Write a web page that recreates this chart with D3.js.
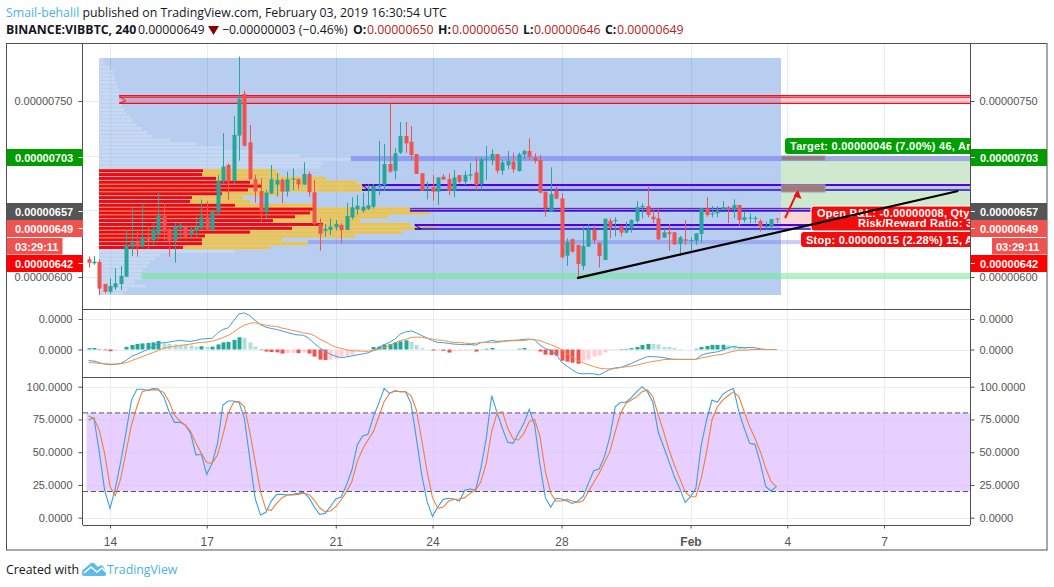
<!DOCTYPE html>
<html><head><meta charset="utf-8">
<script src="https://cdnjs.cloudflare.com/ajax/libs/d3/7.8.5/d3.min.js"></script>
<style>html,body{margin:0;padding:0;background:#fff}svg{display:block}text{font-family:"Liberation Sans",Arial,sans-serif}</style>
</head><body><div id="c"></div>
<script>
// ---- data (prices in 1e-8 BTC, first bar is index -4, Jan 14 00:00 is index 0) ----
const firstBar = -4;
const opens = [615.1,611.7,612.8,594.1,587.5,591.2,594.1,600.3,625.9,630.1,625.9,633.6,631.6,637.2,652.3,640.7,631,641.5,642.9,636.4,639.2,641.5,651.4,640.1,654.9,681.3,695.5,682.1,720.5,756,714.8,683.3,673.3,655.7,671.3,678.7,682.7,672.8,683.3,683.3,678.7,687.8,672.2,645.2,639.5,640.1,642.4,644.3,640,650.8,657.7,656.5,658.2,659.9,677,678.4,696.3,690.6,706,720.2,715.3,704.8,688.4,676.4,676.4,672.7,685.5,683.5,673.6,686.9,681.2,686.4,689.2,679,700.3,699.7,704.8,690.6,695.2,698.3,690.3,704.3,707.4,702,699.7,672.7,655.7,673.6,667,618.2,632.1,627.3,609.4,625.9,640.1,629.3,614.5,648,648,643.5,637.8,641.5,647.7,659.4,660.5,651.4,650,633.5,638.1,638.1,628.1,632.1,631,631,636.7,658.5,653.4,654.3,657.1,659.4,657.1,661.4,648.6,650.4,649.7,647.7,642.9,642.9,650];
const highs = [617.4,617.9,615.1,594.1,598.9,607.4,609.4,640.1,658.6,638.7,662.8,642.9,646.3,671.9,662.8,642.9,645.8,646.3,644.3,644.3,651.4,666.2,664.8,657.1,687,722.5,696.9,737.2,787.8,758.8,729.6,687,684.1,674.2,695.5,688.4,684.1,689.8,692.6,684.1,697.8,689.8,682.7,650,645.2,650,648.6,645.7,663.4,667.9,669.9,671.9,679,679.3,715.9,713.4,748,709.7,732.1,732.1,728.7,704.8,688.4,681.2,686.9,684.9,687.8,688.4,691.2,686.9,690.3,697.4,702,702,711.6,708.8,704.8,699.7,707.4,706,706,708.8,718.2,705.4,704,672.7,693.5,677,671.3,632.9,632.9,627.3,642.9,644.9,644.3,629.3,649.7,650,650.9,644.3,647.2,649.2,664.8,662.8,677,658.5,658.5,640.9,645.2,638.1,635,648.6,633.8,637.2,658.5,667.9,660.5,660.5,664.8,660.5,666.2,661.4,655.7,654.3,652,649.2,647.2,649.4,650];
const lows = [608,610.3,584.7,586.1,585.5,589,589,599.7,617.9,617.4,625.3,623.6,625.9,631.6,631.6,617.4,612.2,633.8,632.1,632.4,634.4,640.1,640.1,639.2,652.9,679.9,665.7,679.3,699.2,711.1,682.7,663.4,645.8,648.6,670.5,668.5,662.8,668.5,674.2,674.7,678.4,668.5,644.3,622.5,634.4,635.8,639.5,628.7,640,649.1,652.8,654.8,657.1,658.5,669.9,673.3,688.9,683.2,704.8,706,699.7,687.8,673.6,666.2,665.1,661.4,682.7,669.9,667.9,679.8,678.4,682.7,674.1,674.1,682.7,695.5,688.4,686.9,691.8,688.9,689.8,700.3,699.7,696.9,671.3,651.4,655.7,666.2,615.9,609.4,620.7,598.9,606,625.9,628.1,608,614.5,633,634.4,634.4,637.2,637.8,645.8,650,650.9,645.8,631.5,633.5,622.5,627.3,617.9,627.3,622.5,627.3,628.7,651.4,650.9,650.9,656.5,645.8,650,643.5,646.3,645.8,646.3,638.6,640.6,640.6,646];
const closes = [612.2,613.1,590.1,587.5,592.4,594.6,600.9,627.3,629.3,625.9,633.6,631,640.1,652.3,638.7,631,642.9,644.1,634.4,639.2,642.4,651.4,640.7,655.4,681.6,694.1,681.3,721.1,751.7,712,683.3,672.8,655.7,671.9,683.3,682.7,672.8,683.3,683.8,679,687.8,672.2,645.2,636.7,640.9,642.9,645.2,640,652,659.4,660.8,659.9,661.1,677.6,678.4,696.3,689.8,705.4,720.2,713.9,704,687.8,673.6,677,672.7,684.9,683.2,673.3,684.9,681.2,686.9,687.5,678.4,700.3,700.9,704.8,690.6,697.7,698.9,691.8,704.5,707.4,702.6,698.9,671.9,658.5,670.7,666.8,616.8,629.8,621.6,611.1,626.4,640.1,631.5,617.9,649.7,642.3,648.6,637.8,640.1,648.6,659.4,660.5,652.9,649.2,632.1,638.1,636.7,627.9,633.8,631,631.5,637.2,658.5,652.9,654.3,656.5,659.4,657.7,661.4,648.6,650.9,650.6,650.3,642.9,643.5,649.4,649];

const macdHist = [1.3,1.5,-.5,-.7,-1.7,-1,-.2,2.5,4.5,5.5,6,6.5,7,8.3,6,5.5,5,4.5,4.5,4,2.8,3.2,2.4,2.8,5,7,7.5,9.5,12,11.5,7,3,-.5,-2,-2.5,-2.8,-4,-3.5,-3.3,-3.6,-3,-4,-7,-10,-10.3,-10,-9.5,-7,-6.5,-5,-2,-.7,-.5,2.5,3,5,5.5,7,8,9,7.5,4.5,1.5,.3,-1,-.8,-1.2,-3,-1.5,-1.4,-1,-.8,-2,.2,.7,1.5,.3,.3,.3,.2,.7,1.5,.3,.3,-2,-5,-5.5,-6,-11,-12,-13,-14,-11,-10,-7,-6,-3,-.7,.2,.5,.6,1.3,2.5,4.5,5.5,5.4,5,2.5,2.4,1.5,.5,.1,.05,.7,2.5,3.5,4.5,4.6,4.7,4,3.5,2,1.5,.7,.3,.2,.1,.1,.1];
const macdLine = [-11,-11.3,-13,-14.3,-15,-14.7,-13.7,-10.7,-6.7,-4.7,-2.3,0,3,6,6.7,7.3,8.3,9,8.3,8,9,10.3,10.7,11,16,19.7,21.3,28.3,35,36,33.3,28.7,24.3,22,20.7,19.7,18.3,16.7,15.3,14.3,14,11,6,1.7,-1.7,-4.7,-6.7,-8,-7.3,-6.3,-5.3,-4.3,-3.3,-1,1.7,4.7,7,10.3,15,17.3,18.3,16.3,13.7,11.3,8.7,7,6.7,6,5.3,5,4.7,5,4.3,6.7,7.3,9,8,8.3,8.7,9,9.3,10,10.3,9.3,4.3,1,-.7,-4.7,-12.3,-16.3,-20,-23.3,-24,-23.7,-24,-25,-22.3,-19.7,-18,-17.7,-15.7,-13.7,-11.3,-9,-7,-7,-7.3,-8,-9,-9.7,-9.7,-9.7,-9.7,-9.7,-5.7,-4,-3,-2.3,-.7,1.7,3,2,1.7,2,1.7,.7,0,0,0];
const macdSignal = [-13,-13,-13.7,-14,-14.3,-14.3,-14,-13,-11,-9,-7,-5,-3,-1,1.3,2.3,3,4,4.7,5.3,6.3,7,7.3,8.3,9.7,11.7,14,17,21,24,25.7,26.3,25,24,23,22.7,21,20,18.7,17.7,16.3,15.7,13.7,10.3,7.7,4.7,2.3,1,-.3,-1.3,-1.3,-1.7,-1.7,-1,.3,2,4,6.7,8.7,10,11.7,12.3,12,11,10.3,9.3,9,7.7,7,7,6.3,5.7,6,7,7,7,7,7.7,8.3,8.7,8.7,8.7,9.7,9.7,8.7,6.7,4.7,2.7,0,-4,-7.3,-10.7,-13,-15,-16.7,-18.3,-19,-19,-18.7,-17.7,-17,-16.3,-15.3,-14,-12.7,-11.7,-11,-10,-9.7,-9.7,-9.7,-9.7,-9.7,-9.7,-8.3,-7.3,-6.3,-5.3,-4.7,-3,-1.7,-.7,-.7,-.3,0,0,0,0,0];

const stochK = [74.6,76.3,50.4,21.1,7.1,22.4,42.8,65.7,89.8,98,98,97,98.5,98.2,92.4,80.9,72.8,72.8,70.8,64.4,47.8,48.4,33.1,41.5,56.8,86,89.1,89.1,88.1,75.8,45.3,14.8,2,4.1,12.7,17.8,17.8,17.3,17.8,18.6,19.3,15.3,8.4,2.5,3.3,8.4,14.3,15.8,24.9,36.4,55.5,62.4,63.6,77.1,87.3,98.7,94.9,96.7,96.2,96.2,87.3,60.6,32.6,12.2,1,8.4,14,14.8,14.3,12.7,20.9,21.9,21.1,37.7,60.6,93.1,80.4,68.2,57.5,56.8,64.4,72,82.7,70.8,40.2,15.3,8.1,14.8,14.3,12.7,10.9,12.7,16,26.2,35.9,37.2,46.6,61.8,84.7,88.1,88.1,91.6,96.2,100,96.2,88.1,65.2,54.2,42.8,31.3,22.4,11.7,16,22.4,55.5,74.6,89.8,88.1,94.2,97,98.7,80.9,68.2,56.8,56,41.5,23.7,20.4,23.7];
const stochD = [77.6,75.8,66.9,49.1,23.7,16.8,30,50.4,70.8,84.7,96.2,97.5,97.5,97.5,95.7,88.6,78.4,73.8,70.8,65.7,56.8,49.1,42.2,41.5,47.8,63.1,79.7,88.1,88.6,84.7,65.7,42.8,19.9,6.4,5.6,10.9,15.3,17.3,17.3,17.8,18.6,17.8,13.5,7.6,4.6,5.1,8.4,13.5,19.9,27.5,42.8,52.4,59.3,65.7,77.1,88.6,94.9,97,96.2,96.2,93.1,82.2,59.3,35.1,15.3,7.1,8.1,12.7,14,14.3,15.3,18.6,21.1,27.5,41.5,65.7,79.7,80.9,68.2,60.1,59.3,64.4,73.3,75.1,61.8,35.1,18.6,12.7,12.7,14,12.7,11.7,12.7,19.9,27,33.8,42.2,50.4,65.7,79.7,87.3,89.8,92.4,96.2,97.5,92.4,78.4,65.7,51.7,40.2,30,19.9,16,16,30,50.4,74.6,84.7,89.8,93.1,96.2,92.4,80.9,69.5,60.6,50.4,37.7,27.5,23.7];

// fixed-range volume profile, rows top to bottom
const vpTotal = [4,6,11,14,15,16,17,19,20,20,21,22,23,25,28,31,34,38,43,48,53,71,98,124,156,201,252,223,221,
  177,181,227,258,273,263,181,144,151,214,311,331,289,261,311,338,303,256,183,209,171,
  136,61,56,51,48,44,44,43,36,47,28,24];
const vpValue = [0,0,0,0,0,0,0,0,0,0,0,0,0,0,0,0,0,0,0,0,0,0,0,0,0,0,0,0,0,
  104,103,117,151,163,149,123,93,91,136,214,211,196,174,224,193,151,106,103,103,84,
  0,0,0,0,0,0,0,0,0,0,0,0];
const priceTicks = [750,600];
const macdTicks = [30,0];
const stochTicks = [100,75,50,25,0];
const dayTicks = [0,18,42,60,84,108,126,144];
const dayLabels = ["14","17","21","24","28","Feb","4","7"];
const lineZones = [[754.5,753.2,748,1.7],[678.4,674.1,674.1,46.9],[644.3,640.9,640.9,56.7]];
const target = 703, entry = 657, stop = 642, last = 649;

// ---- scales ----
const W=1054,H=587;
const L=83,R=970;
const x = d3.scaleLinear().domain([0,1]).range([110,115.375]);
const y = d3.scaleLinear().domain([750,600]).range([101,277]);
const yM = d3.scaleLinear().domain([0,30]).range([349.5,319]);
const yS = d3.scaleLinear().domain([0,100]).range([517.7,386.7]);
const vol = d3.scaleLinear().domain([0,338]).range([99,437]);
const rowY = d3.scaleBand().domain(d3.range(vpTotal.length)).range([58,295]).paddingInner(.22);
const priceFmt = v=>"0.00000"+v;
const UP="#26a69a",DN="#ef5350";

const svg=d3.select("#c").append("svg").attr("width",W).attr("height",H);
const defs=svg.append("defs");
defs.append("clipPath").attr("id","mc").append("rect").attr("x",L).attr("y",44).attr("width",R-L).attr("height",265);

// grid
const grid=svg.append("g").attr("stroke","#e9edf2").attr("stroke-width",1);
const xs=dayTicks.map(d=>Math.round(x(d))+.5);
xs.forEach(v=>grid.append("line").attr("x1",v).attr("x2",v).attr("y1",44).attr("y2",525));
priceTicks.forEach(v=>grid.append("line").attr("x1",L).attr("x2",R).attr("y1",Math.round(y(v))+.5).attr("y2",Math.round(y(v))+.5));
[target,entry].forEach(v=>grid.append("line").attr("x1",L).attr("x2",R).attr("y1",Math.round(y(v))+.5).attr("y2",Math.round(y(v))+.5));
macdTicks.forEach(v=>grid.append("line").attr("x1",L).attr("x2",R).attr("y1",Math.round(yM(v))+.5).attr("y2",Math.round(yM(v))+.5));
stochTicks.forEach(v=>grid.append("line").attr("x1",L).attr("x2",R).attr("y1",Math.round(yS(v))+.5).attr("y2",Math.round(yS(v))+.5));

// main pane
const m=svg.append("g").attr("clip-path","url(#mc)");
const xEnd=x(200);
m.append("rect").attr("x",vol(0)).attr("y",58).attr("width",781-vol(0)).attr("height",237).attr("fill","#b4cbef").attr("fill-opacity",.95);
// faint grid through the blue box
xs.forEach(v=>{ if(v>99&&v<781) m.append("line").attr("x1",v).attr("x2",v).attr("y1",58).attr("y2",295).attr("stroke","#9fb6dc").attr("stroke-opacity",.6); });

// vp rows
vpTotal.forEach((t,k)=>{
  const ry=rowY(k),rh=rowY.bandwidth(),r=vpValue[k];
  if(r>0){
    m.append("rect").attr("x",vol(0)).attr("y",ry).attr("width",vol(t)-vol(0)).attr("height",rh).attr("fill","#f2c33f");
    m.append("rect").attr("x",vol(0)).attr("y",ry).attr("width",vol(r)-vol(0)).attr("height",rh).attr("fill","#ee0a14");
  } else {
    m.append("rect").attr("x",vol(0)).attr("y",ry).attr("width",vol(t)-vol(0)).attr("height",rh).attr("fill","#dbe6f8").attr("fill-opacity",.42);
  }
});

// position box
m.append("rect").attr("x",781).attr("y",y(target)).attr("width",R-781).attr("height",y(entry)-y(target)).attr("fill","#cfe9cf");
m.append("rect").attr("x",781).attr("y",y(entry)).attr("width",R-781).attr("height",y(stop)-y(entry)).attr("fill","#fdd5d5");

// zones
function band(p1,p2,i0,c,o){m.append("rect").attr("x",x(i0)).attr("y",y(p1)).attr("width",xEnd-x(i0)).attr("height",y(p2)-y(p1)).attr("fill",c).attr("fill-opacity",o);}
function hl(p,i0,c,w){m.append("line").attr("x1",x(i0)).attr("x2",xEnd).attr("y1",y(p)).attr("y2",y(p)).attr("stroke",c).attr("stroke-width",w);}
band(754.5,748,1.7,"#ff3040",.25);
hl(754.5,1.7,"#f01020",1.3);hl(753.2,1.7,"#f01020",1);hl(748,1.7,"#f01020",1.3);
band(603.4,598.3,5.8,"#66ee88",.5);
band(703.1,698.8,44.8,"#5a5af0",.42);
band(631.5,628,36.8,"#5a5af0",.3);
band(678.4,674.1,46.9,"#7050f0",.2);hl(678.4,46.9,"#5500dd",2);hl(674.1,46.9,"#2a10c8",1.5);
band(658.5,656.5,55.8,"#7050f0",.2);hl(658.5,55.8,"#701080",1);hl(656.5,55.8,"#3c10e0",2);
band(644.3,640.9,56.7,"#7050f0",.2);hl(644.3,56.7,"#5500dd",2);hl(640.9,56.7,"#2a10c8",1.5);
lineZones.forEach(z=>{
  const c=z[0]>700?"#f01020":"#1a1090";
  m.append("path").attr("fill","none").attr("stroke",c).attr("stroke-width",1)
   .attr("d",d3.line()([[x(z[3]),y(z[0])],[x(z[3]+1.2),y(z[1])+(y(z[2])-y(z[1]))*.6],[x(z[3]),y(z[2])]]));
});
[[703.1,699.5,"#9a7a80","#8a9fc0"],[678.6,672.5,"#a87878","#7f9bb0"]].forEach(b=>{
  m.append("rect").attr("x",781.5).attr("y",y(b[0])).attr("width",43.5).attr("height",y(b[1])-y(b[0])).attr("fill",b[2]).attr("stroke",b[3]).attr("stroke-width",1);
});

// candles
const idx=d3.range(opens.length).map(i=>i+firstBar);
const cg=m.append("g");
idx.forEach((b,i)=>{
  const up=closes[i]>=opens[i],c=up?UP:DN,px=Math.round(x(b));
  cg.append("line").attr("x1",px+.5).attr("x2",px+.5).attr("y1",y(highs[i])).attr("y2",y(lows[i])).attr("stroke",c).attr("stroke-width",1);
  const t=Math.min(y(opens[i]),y(closes[i])),h=Math.max(1,Math.abs(y(opens[i])-y(closes[i])));
  cg.append("rect").attr("x",px-1.5).attr("y",t).attr("width",4).attr("height",h).attr("fill",c);
});

// arrow
const ax0=[x(125.6),y(650.3)],ax1=[x(128),y(674.1)];
m.append("line").attr("x1",ax0[0]).attr("y1",ax0[1]).attr("x2",ax1[0]-1.2).attr("y2",ax1[1]+3).attr("stroke","#f01010").attr("stroke-width",2);
m.append("path").attr("fill","#f01010").attr("d",d3.line()([[ax1[0],ax1[1]],[ax1[0]+3.5,ax1[1]+9],[ax1[0]-4.5,ax1[1]+6]])+"Z");

// trade labels
function tag(x0,y0,h,fill,border){
  const r=m.append("rect").attr("x",x0).attr("y",y0).attr("width",R+10-x0).attr("height",h).attr("rx",3).attr("fill",fill);
  if(border) r.attr("stroke","#fff").attr("stroke-width",1);
}
function tagText(t,tx,ty){m.append("text").attr("x",tx).attr("y",ty).attr("fill","#fff").attr("font-size",11).attr("font-weight","bold").attr("letter-spacing",".25").text(t);}
tag(785,138,16,"#009f00");
tagText("Target: 0.00000046 (7.00%) 46, Am",790,150);
tag(811,206,25,"#f20d0d",true);
tagText("Open P&L: -0.00000008, Qty: 1",817,217);
tagText("Risk/Reward Ratio: 3.",858,227);
tag(801,232,15,"#f20d0d");
tagText("Stop: 0.00000015 (2.28%) 15, A",806,244);
m.append("line").attr("x1",x(86.9)).attr("y1",y(599.1)).attr("x2",x(157.8)).attr("y2",y(673.3)).attr("stroke","#000").attr("stroke-width",2.2);

// MACD
const mac=svg.append("g");
macdHist.forEach((v,i)=>{
  const p=i?macdHist[i-1]:0;
  const c=v>=0?(v>p?"#26a69a":"#b2dfdb"):(v<p?"#ef5350":"#ffcdd2");
  const px=Math.round(x(i+firstBar));
  const a=yM(v),b=yM(0);
  mac.append("rect").attr("x",px-1.5).attr("y",Math.min(a,b)).attr("width",4).attr("height",Math.abs(a-b)).attr("fill",c);
});
const lineM=d3.line().x((d,i)=>x(i+firstBar)).y(d=>yM(d));
mac.append("path").attr("d",lineM(macdLine)).attr("fill","none").attr("stroke","#3d9ee0").attr("stroke-width",1);
mac.append("path").attr("d",lineM(macdSignal)).attr("fill","none").attr("stroke","#f0914a").attr("stroke-width",1);

// Stoch
const st=svg.append("g");
st.append("rect").attr("x",x(firstBar)-2).attr("y",yS(80)).attr("width",R-x(firstBar)+2).attr("height",yS(20)-yS(80)).attr("fill","#d9b3ff").attr("fill-opacity",.62);
[80,20].forEach(v=>st.append("line").attr("x1",L).attr("x2",R).attr("y1",yS(v)).attr("y2",yS(v)).attr("stroke","#555").attr("stroke-dasharray","5 3"));
const lineS=d3.line().x((d,i)=>x(i+firstBar)).y(d=>yS(d));
st.append("path").attr("d",lineS(stochK)).attr("fill","none").attr("stroke","#3d9ee0").attr("stroke-width",1.1);
st.append("path").attr("d",lineS(stochD)).attr("fill","none").attr("stroke","#ee7f3d").attr("stroke-width",1.1);

// frames
const fr=svg.append("g").attr("stroke","#505050").attr("fill","none");
fr.append("rect").attr("x",6.5).attr("y",43.5).attr("width",1040.5).attr("height",506.5);
[[L-.5,L-.5,44,525],[R+.5,R+.5,44,525],[L,R,309.5,309.5],[L,R,377.5,377.5],[L,R,525.5,525.5]].forEach(a=>
  fr.append("line").attr("x1",a[0]).attr("x2",a[1]).attr("y1",a[2]).attr("y2",a[3]));

// axes
function styleAxis(g,f){g.select(".domain").remove();g.selectAll("line").attr("stroke","#505050");
  g.selectAll("text").attr("fill","#555").attr("font-size",11).style("font-family",'"Liberation Sans",Arial,sans-serif');}
function both(scale,ticks,fmt){
  svg.append("g").attr("transform",`translate(${L-.5},0)`).call(d3.axisLeft(scale).tickValues(ticks).tickFormat(fmt).tickSize(4).tickPadding(6)).call(styleAxis);
  svg.append("g").attr("transform",`translate(${R+.5},0)`).call(d3.axisRight(scale).tickValues(ticks).tickFormat(fmt).tickSize(4).tickPadding(5)).call(styleAxis);
}
both(y,priceTicks,priceFmt);
both(yM,macdTicks,()=>"0.0000");
both(yS,stochTicks,d3.format(".4f"));
svg.append("g").attr("transform","translate(0,525.5)")
  .call(d3.axisBottom(x).tickValues(dayTicks).tickFormat((d,i)=>dayLabels[i]).tickSize(3).tickPadding(9)).call(styleAxis)
  .selectAll("text").attr("font-size",12).attr("font-weight",(d,i)=>dayLabels[i]==="Feb"?"bold":null).attr("fill","#555");

// price labels on both axes
const labels=[[target,149,"#009c00",priceFmt(target)],[entry,203,"#555555",priceFmt(entry)],[last,220,"#ef5350",priceFmt(last)],[stop,255,"#ff0000",priceFmt(stop)]];
labels.forEach(l=>{
  [[6.5,L-6.5,15,L-4.5,0],[R+1,1047-R-1,980,R+1,1]].forEach(s=>{
    svg.append("rect").attr("x",s[0]).attr("y",l[1]).attr("width",s[1]).attr("height",17).attr("fill",l[2]);
    svg.append("line").attr("x1",s[3]).attr("x2",s[3]+4).attr("y1",l[1]+8.5).attr("y2",l[1]+8.5).attr("stroke","#fff");
    svg.append("text").attr("x",s[2]).attr("y",l[1]+12.5).attr("fill","#fff").attr("font-size",11).attr("font-weight","bold").text(l[3]);
  });
});
[[6.5,56,15],[992,55,996]].forEach(s=>{
  svg.append("rect").attr("x",s[0]).attr("y",238).attr("width",s[1]).attr("height",16.5).attr("fill","#ef5350");
  svg.append("text").attr("x",s[2]).attr("y",250.5).attr("fill","#fff").attr("font-size",11).attr("font-weight","bold").text("03:29:11");
});

// headers
const hf='"Open Sans","Noto Sans",sans-serif';
const fs=12.3;
function ht(tx,ty,t,fill,bold){
  const e=svg.append("text").attr("x",tx).attr("y",ty).attr("font-size",fs).style("font-family",hf).attr("fill",fill||"#131722").text(t);
  if(bold) e.attr("font-weight","bold");
  return e;
}
const h1=svg.append("text").attr("x",6).attr("y",17).attr("font-size",fs).style("font-family",hf).attr("fill","#131722");
h1.append("tspan").attr("fill","#4bb2de").text("Smail-behalil");
h1.append("tspan").text(" published on TradingView.com, February 03, 2019 16:30:54 UTC");
ht(6,34,"BINANCE:VIBBTC, 240",null,true);
ht(138,34,"0.00000649");
svg.append("path").attr("fill","#8b0000").attr("d","M208 26 L219 26 L213.5 35 Z");
ht(222,34,"−0.00000003 (−0.46%)");
[["O:",353,367,"0.00000650"],["H:",438,452,"0.00000650"],["L:",523,534,"0.00000646"],["C:",605,617,"0.00000649"]].forEach(p=>{
  ht(p[1],34,p[0],null,true);
  ht(p[2],34,p[3],"#b22222");
});
ht(6,574,"Created with");
svg.append("path").attr("fill","#5cbce8").attr("d","M82 574 Q81 571 85 568 L91 563 Q93 562 95 564 L98 567 Q101 564 103 566 Q106 570 106 574 Q106 576 103 576 L85 576 Q82 576 82 574 Z");
svg.append("path").attr("fill","none").attr("stroke","#fff").attr("stroke-width",1.6).attr("d","M84 573 L91 567 L97 572 L102 568 L106 572");
ht(107,574,"TradingView","#4bb2de");
</script></body></html>
